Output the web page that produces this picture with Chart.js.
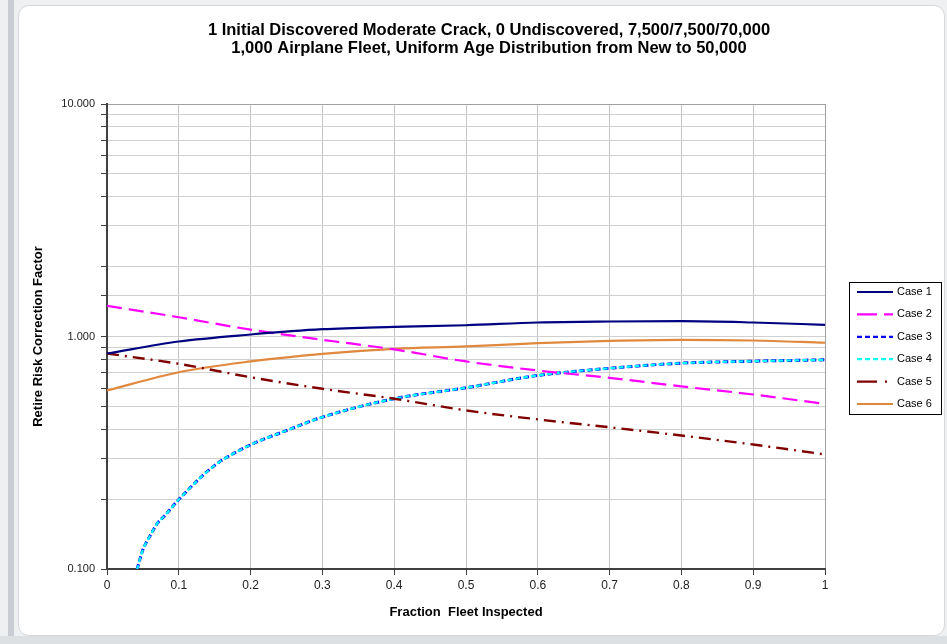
<!DOCTYPE html>
<html>
<head>
<meta charset="utf-8">
<script src="https://cdn.jsdelivr.net/npm/chart.js@4"></script>
<style>
  html,body{margin:0;padding:0;background:#eef0f2;width:947px;height:644px;overflow:hidden;font-family:"Liberation Sans",Arial,sans-serif}
  .strip{position:absolute;left:8px;top:0;width:6px;height:644px;background:#c9cdd3}
  .bottom{position:absolute;left:0;top:636px;width:947px;height:8px;background:#dde0e3}
  .panel{position:absolute;left:18px;top:5px;width:925px;height:629px;background:#fff;border:1px solid #d6d8db;border-radius:11px}
  #chart{position:absolute;left:0;top:0}
</style>
</head>
<body>
<div class="strip"></div>
<div class="bottom"></div>
<div class="panel"></div>
<canvas id="chart" width="947" height="644"></canvas>
<script>
// chart text
const titleLines = [
  '1 Initial Discovered Moderate Crack, 0 Undiscovered, 7,500/7,500/70,000',
  '1,000 Airplane Fleet, Uniform Age Distribution from New to 50,000'
];
const xTitle = 'Fraction  Fleet Inspected';
const yTitle = 'Retire Risk Correction Factor';
const caseNames = ['Case 1','Case 2','Case 3','Case 4','Case 5','Case 6'];

// fraction of fleet inspected
const fraction = [0, 0.1, 0.2, 0.3, 0.4, 0.5, 0.6, 0.7, 0.8, 0.9, 1.0];
const case1 = [0.845, 0.952, 1.02, 1.075, 1.10, 1.118, 1.149, 1.16, 1.164, 1.149, 1.123];
const case2 = [1.355, 1.21, 1.07, 0.968, 0.88, 0.781, 0.714, 0.664, 0.61, 0.563, 0.513];
const case5 = [0.845, 0.763, 0.668, 0.596, 0.54, 0.481, 0.44, 0.407, 0.375, 0.343, 0.311];
const case6 = [0.586, 0.702, 0.781, 0.842, 0.885, 0.906, 0.936, 0.958, 0.968, 0.961, 0.94];

// cases 3 and 4 start off the bottom of the axis, so they get their own x values
const fraction34 = [0.042, 0.05, 0.06, 0.07, 0.08, 0.1, 0.15, 0.2, 0.25, 0.3, 0.4, 0.5, 0.6, 0.7, 0.8, 0.9, 1.0];
const case3 = [0.1, 0.121, 0.139, 0.157, 0.169, 0.199, 0.279, 0.342, 0.394, 0.45, 0.54, 0.602, 0.68, 0.73, 0.768, 0.783, 0.794];
const case4 = [0.1, 0.121, 0.139, 0.157, 0.169, 0.199, 0.279, 0.342, 0.394, 0.45, 0.54, 0.602, 0.68, 0.73, 0.768, 0.783, 0.794];

const pts = (xs, ys) => xs.map((x, i) => ({x, y: ys[i]}));

function line(label, xs, ys, color, width, dash, legendDash, extra={}){
  return Object.assign({
    label, data: pts(xs, ys), borderColor: color, backgroundColor: color,
    borderWidth: width, borderDash: dash, legendDash,
    pointRadius: 0, fill: false, cubicInterpolationMode: 'monotone', order: 0
  }, extra);
}

const datasets = [
  line(caseNames[0], fraction, case1, '#000080', 2.2, [], []),
  line(caseNames[1], fraction, case2, '#ff00ff', 2.2, [15, 7], [20, 7]),
  line(caseNames[2], fraction34, case3, '#0000ff', 3, [5, 3], [5, 3], {order: 2}),
  line(caseNames[3], fraction34, case4, '#00ffff', 2.2, [5, 3], [5, 3], {order: 1, borderDashOffset: 1}),
  line(caseNames[4], fraction, case5, '#800000', 2.4, [12, 6, 2, 6], [20, 8, 2, 20]),
  line(caseNames[5], fraction, case6, '#e0893e', 2.2, [], [])
];

const isDecade = v => Math.abs(Math.log10(v) - Math.round(Math.log10(v))) < 1e-6;

// title and boxed legend drawn on top of the chart
const decor = {
  id: 'decor',
  afterDraw(chart){
    const ctx = chart.ctx;
    ctx.save();
    ctx.fillStyle = '#000';
    ctx.textAlign = 'center';
    ctx.textBaseline = 'middle';
    ctx.font = 'bold 16.5px "Liberation Sans", Arial, sans-serif';
    ctx.fillText(titleLines[0], 489, 30, 568);
    ctx.fillText(titleLines[1], 489, 48, 522);

    // legend box
    ctx.strokeStyle = '#000';
    ctx.lineWidth = 1;
    ctx.strokeRect(849.5, 282.5, 92, 132);
    ctx.font = '11px "Liberation Sans", Arial, sans-serif';
    ctx.textAlign = 'left';
    chart.data.datasets.forEach((ds, i) => {
      const y = 292 + i * 22.4;
      ctx.beginPath();
      ctx.setLineDash(ds.legendDash);
      ctx.strokeStyle = ds.borderColor;
      ctx.lineWidth = 2.2;
      ctx.moveTo(857, y);
      ctx.lineTo(893, y);
      ctx.stroke();
      ctx.setLineDash([]);
      ctx.fillStyle = '#000';
      ctx.fillText(ds.label, 897, y);
    });
    ctx.restore();
  }
};

new Chart(document.getElementById('chart'), {
  type: 'line',
  data: {datasets},
  options: {
    responsive: false, animation: false, devicePixelRatio: 1,
    layout: {padding: {left: 27, top: 104, right: 122, bottom: 20}},
    plugins: {legend: {display: false}, tooltip: {enabled: false}},
    scales: {
      x: {
        type: 'linear', min: 0, max: 1,
        afterFit: s => { s.height = 55; },
        ticks: {stepSize: 0.1, color: '#222', padding: 3, font: {size: 12, family: '"Liberation Sans", Arial'},
          callback: v => String(Number(v.toFixed(1)))},
        grid: {color: c => (c.tick && c.tick.value === 1) ? '#a0a0a0' : '#c4c4c4', lineWidth: 1, tickColor: '#404040', tickLength: 6},
        border: {color: '#404040', width: 2},
        title: {display: true, text: xTitle, color: '#000', padding: {top: 4, bottom: 4},
          font: {size: 13, weight: 'bold', family: '"Liberation Sans", Arial'}}
      },
      y: {
        type: 'logarithmic', min: 0.1, max: 10,
        afterFit: s => { s.width = 80; },
        ticks: {autoSkip: false, color: '#222', padding: 6, font: {size: 11, family: '"Liberation Sans", Arial'},
          callback: v => isDecade(v) ? Number(v).toFixed(3) : ''},
        grid: {color: c => (c.tick && c.tick.value === 10) ? '#a0a0a0' : '#d0d0d0', lineWidth: 1, tickColor: '#404040', tickLength: 6},
        border: {color: '#404040', width: 2},
        title: {display: true, text: yTitle, color: '#000', padding: {top: 4, bottom: 4},
          font: {size: 13, weight: 'bold', family: '"Liberation Sans", Arial'}}
      }
    }
  },
  plugins: [decor]
});
</script>
</body>
</html>
